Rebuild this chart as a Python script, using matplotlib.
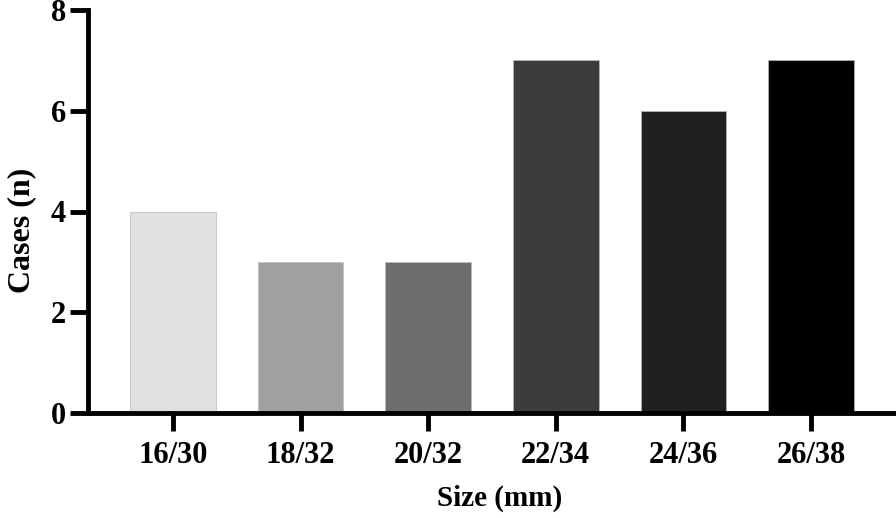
import matplotlib
matplotlib.use("Agg")
import matplotlib.pyplot as plt

# data
sizes = ["16/30", "18/32", "20/32", "22/34", "24/36", "26/38"]
cases = [4, 3, 3, 7, 6, 7]
bar_colors = ["#e0e0e0", "#a0a0a0", "#6e6e6e", "#3c3c3c", "#202020", "#000000"]
y_ticks = [0, 2, 4, 6, 8]

plt.rcParams['font.family'] = ['Liberation Serif', 'DejaVu Serif']
plt.rcParams['font.weight'] = 'bold'

fig = plt.figure(figsize=(8.96, 5.18), dpi=100)
ax = fig.add_axes([88/896, (518-413)/518, (896-88)/896, (413-10)/518])

x = range(len(sizes))
ax.bar(x, cases, width=0.67, color=bar_colors, edgecolor="#bbbbbb", linewidth=0.5)

ax.set_xlim(-0.667, 5.667)
ax.set_ylim(0, 8)
ax.set_yticks(y_ticks)
ax.set_xticks(list(x))
ax.set_xticklabels(sizes)

for side in ["top", "right"]:
    ax.spines[side].set_visible(False)
for side in ["left", "bottom"]:
    ax.spines[side].set_linewidth(3.5)
    ax.spines[side].set_capstyle("projecting")

ax.tick_params(axis="both", width=3.5, length=13, labelsize=22, direction="out")
ax.tick_params(axis="y", pad=3)
ax.tick_params(axis="x", pad=7)
for lab in ax.get_xticklabels() + ax.get_yticklabels():
    lab.set_fontweight("bold")

ax.set_xlabel("Size (mm)", fontsize=21, fontweight="bold")
ax.set_ylabel("Cases (n)", fontsize=23, fontweight="bold")
# label placement as in the original (slightly off-centre)
ax.xaxis.set_label_coords(0.509, -0.178)
ax.yaxis.set_label_coords(-0.064, 0.454)

fig.savefig("out.png", dpi=100)
